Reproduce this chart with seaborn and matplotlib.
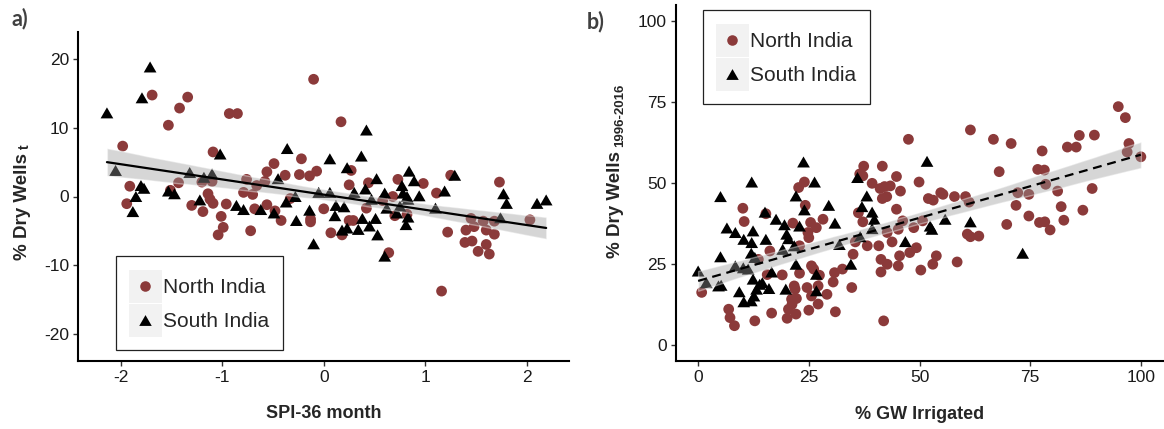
import matplotlib
matplotlib.use("Agg")
import matplotlib.pyplot as plt
import numpy as np
import pandas as pd
import seaborn as sns
from matplotlib.lines import Line2D
from matplotlib.patches import Rectangle
from matplotlib.legend_handler import HandlerBase
from matplotlib.path import Path
from matplotlib.collections import PolyCollection

sns.set_style("white")
plt.rcParams["font.family"] = ["Liberation Sans", "DejaVu Sans"]
plt.rcParams["axes.unicode_minus"] = False

regions = ["North India", "South India"]

# ---- panel a: 36-month SPI vs change in dry wells ----
spi_north = [-1.98, -1.91, -1.94, -1.69, -1.53, -1.51, -1.42, -1.34, -1.43, -1.30,
             -1.20, -1.19, -1.14, -1.10, -1.09, -1.12, -1.09, -1.01, -0.99, -1.04,
             -0.96, -0.93, -0.85, -0.79, -0.76, -0.70, -0.68, -0.72, -0.66, -0.58,
             -0.56, -0.56, -0.49, -0.48, -0.42, -0.38, -0.33, -0.22, -0.24, -0.14,
             -0.13, -0.13, -0.10, -0.07, 0.00, 0.07, 0.17, 0.18, 0.25, 0.27,
             0.25, 0.29, 0.42, 0.44, 0.58, 0.64, 0.68, 0.70, 0.73, 0.82,
             0.98, 1.11, 1.16, 1.22, 1.25, 1.39, 1.40, 1.45, 1.46, 1.48,
             1.52, 1.57, 1.60, 1.60, 1.63, 1.68, 1.68, 1.73, 2.03]
dry_north = [7.35, 1.5, -1.05, 14.8, 10.4, 0.9, 12.9, 14.5, 2.0, -1.3,
             2.1, -2.2, 0.4, 2.2, 6.5, -0.4, -1.0, -2.9, -4.5, -5.6,
             -1.1, 12.1, 12.1, 0.6, 2.5, 0.3, -1.8, -5.0, 1.6, 2.2,
             3.6, -1.2, 4.8, -2.1, -3.5, 3.1, -0.3, 5.5, 3.2, 3.0,
             -3.3, -3.7, 17.1, 3.7, -1.8, -5.3, 10.9, -5.6, 1.7, 3.8,
             -3.5, -3.5, -1.7, 2.0, -0.6, -8.2, 0.0, -2.8, 2.5, -2.6,
             1.9, 0.5, -13.8, -5.2, 3.1, -6.7, -4.9, -3.2, -6.5, -4.4,
             -8.0, -3.6, -4.9, -7.0, -8.4, -5.5, -3.6, 2.1, -3.4]
spi_south = [-2.135, -2.05, -1.71, -1.79, -1.80, -1.77, -1.85, -1.88, -1.53, -1.47,
             -1.32, -1.02, -1.10, -1.18, -1.22, -0.86, -0.79, -0.62, -0.49, -0.45,
             -0.36, -0.37, -0.28, -0.27, -0.14, -0.10, -0.05, 0.06, 0.06, 0.12,
             0.11, 0.20, 0.23, 0.30, 0.37, 0.42, 0.18, 0.23, 0.34, 0.38,
             0.41, 0.45, 0.47, 0.51, 0.52, 0.53, 0.60, 0.60, 0.62, 0.72,
             0.75, 0.77, 0.78, 0.82, 0.81, 0.83, 0.84, 0.89, 0.94, 0.83,
             1.10, 1.19, 1.29, 1.74, 1.77, 1.80, 2.10, 2.19]
dry_south = [12.2, 3.8, 18.9, 14.4, 1.6, 1.2, 0.0, -2.2, 0.8, 0.4,
             3.5, 6.2, 3.3, 2.8, -0.5, -1.3, -1.9, -1.9, -2.4, 2.6,
             7.0, -0.8, 0.0, -3.5, -2.0, -6.9, 0.6, 0.6, 5.5, -1.3,
             -2.8, -1.5, 4.2, 0.6, 5.9, 9.7, -4.9, -4.6, -4.8, -3.2,
             1.1, -4.3, -0.4, -3.2, 2.6, -5.6, -8.7, 0.5, -1.7, -2.4,
             -1.4, 1.6, 0.5, 0.0, -4.1, -3.0, 3.7, 2.3, 0.1, -0.4,
             -1.7, 0.8, 3.1, -3.1, 0.4, -1.0, -1.0, -0.5]

# ---- panel b: groundwater-irrigated share vs dry wells 1996-2016 ----
gw_north = [0.8, 6.9, 7.2, 8.2, 10.1, 10.4, 12.8, 13.6, 16.2, 15.6,
            16.6, 15.3, 19.0, 20.1, 20.4, 21.2, 21.7, 21.9, 22.1, 21.1,
            22.2, 21.4, 22.7, 22.9, 22.9, 24.0, 24.2, 24.8, 25.0, 25.0,
            24.6, 25.6, 25.6, 25.4, 26.1, 26.7, 27.1, 27.1, 27.4, 28.2,
            29.1, 30.5, 30.8, 31.0, 32.6, 34.7, 35.0, 35.5, 36.2, 37.2,
            37.4, 37.2, 36.5, 38.2, 39.3, 40.8, 41.3, 41.3, 41.6, 41.9,
            41.6, 41.1, 42.7, 42.7, 42.1, 43.4, 42.6, 43.8, 44.8, 44.8,
            45.2, 45.2, 45.5, 45.7, 46.2, 47.5, 47.8, 48.7, 49.3, 49.9,
            50.3, 50.7, 52.0, 53.1, 53.0, 53.8, 54.8, 55.3, 57.9, 58.5,
            60.4, 60.8, 61.2, 61.5, 61.5, 63.4, 66.7, 68.0, 69.7, 70.7,
            71.8, 72.2, 74.7, 74.7, 76.7, 77.1, 77.7, 78.2, 78.3, 78.5,
            79.5, 81.2, 82.0, 82.6, 83.4, 85.4, 86.1, 86.9, 89.0, 89.5,
            94.9, 96.5, 97.3, 96.9, 100.0]
wells_north = [16.2, 11.0, 8.4, 5.9, 42.2, 38.1, 7.4, 26.4, 29.0, 21.7,
               9.8, 40.5, 21.6, 8.2, 11.0, 12.5, 18.2, 17.2, 9.5, 14.1,
               14.3, 37.6, 48.6, 30.6, 22.1, 50.3, 43.1, 34.7, 33.1, 10.7,
               17.7, 24.4, 15.1, 37.8, 23.4, 36.2, 18.2, 12.6, 21.5, 38.8,
               15.6, 19.4, 22.3, 10.2, 23.4, 17.7, 28.0, 31.8, 40.8, 38.0,
               55.2, 52.2, 52.8, 30.6, 49.9, 30.6, 26.4, 22.5, 55.2, 7.4,
               45.2, 48.3, 24.9, 34.7, 48.9, 49.1, 45.8, 31.8, 52.0, 41.9,
               35.7, 24.4, 27.5, 47.5, 38.3, 63.5, 28.5, 36.2, 30.0, 50.3,
               23.1, 38.3, 45.2, 44.7, 24.9, 27.5, 47.0, 46.5, 45.8, 25.6,
               45.8, 34.2, 44.1, 66.4, 33.4, 33.6, 63.5, 53.5, 37.2, 62.2,
               43.1, 47.0, 46.5, 39.8, 54.2, 37.8, 59.9, 54.0, 38.0, 49.6,
               35.5, 47.5, 42.7, 38.5, 61.1, 61.1, 64.7, 41.6, 48.3, 64.8,
               73.6, 70.2, 62.2, 59.6, 58.1]
gw_south = [0.0, 1.85, 5.05, 5.05, 4.6, 5.2, 6.5, 8.4, 8.4, 9.3,
            10.3, 10.3, 12.1, 12.4, 12.1, 12.0, 11.3, 12.8, 12.4, 12.0,
            12.6, 13.2, 13.9, 15.1, 15.3, 14.5, 16.0, 16.6, 17.6, 19.5,
            20.0, 20.4, 19.1, 19.8, 22.1, 22.9, 21.7, 22.1, 23.8, 24.0,
            26.3, 26.7, 26.7, 29.5, 30.9, 31.9, 34.5, 36.0, 37.0, 38.1,
            39.3, 39.8, 36.6, 39.3, 46.8, 51.7, 52.4, 52.8, 55.8, 61.5,
            73.3, 10.2]
wells_south = [22.8, 19.2, 45.8, 27.2, 18.2, 18.4, 36.1, 34.7, 24.4, 16.4,
               32.6, 13.3, 50.3, 35.2, 31.6, 28.3, 23.4, 27.0, 20.3, 13.6,
               15.1, 17.2, 18.7, 41.0, 32.6, 19.2, 17.4, 22.5, 38.8, 37.1,
               34.2, 32.8, 29.5, 17.2, 46.0, 36.7, 30.6, 24.9, 56.5, 41.7,
               50.3, 21.8, 16.7, 43.1, 37.6, 31.0, 24.9, 51.7, 42.7, 46.0,
               41.0, 38.8, 33.4, 35.9, 31.9, 56.7, 36.7, 35.7, 38.8, 38.0,
               28.3, 23.8]

spi_ticks = [-2, -1, 0, 1, 2]
spi_tick_labels = ["-2", "-1", "0", "1", "2"]
dry_ticks = [-20, -10, 0, 10, 20]
dry_tick_labels = ["-20", "-10", "0", "10", "20"]
pct_ticks = [0, 25, 50, 75, 100]
pct_tick_labels = ["0", "25", "50", "75", "100"]

NORTH_COLOR = "#8B3A3A"
SOUTH_COLOR = "#000000"
BAND_COLOR = "#999999"
KEY_BG = "#F2F2F2"
# equilateral triangle marker
TRIANGLE = Path([(-1, -0.866), (1, -0.866), (0, 0.866), (-1, -0.866)],
                [Path.MOVETO, Path.LINETO, Path.LINETO, Path.CLOSEPOLY])

df_a = pd.concat([
    pd.DataFrame({"spi": spi_north, "dry": dry_north, "region": regions[0]}),
    pd.DataFrame({"spi": spi_south, "dry": dry_south, "region": regions[1]}),
], ignore_index=True)
df_b = pd.concat([
    pd.DataFrame({"gw": gw_north, "wells": wells_north, "region": regions[0]}),
    pd.DataFrame({"gw": gw_south, "wells": wells_south, "region": regions[1]}),
], ignore_index=True)


class KeyHandler(HandlerBase):
    """Legend key: grey square background with a centred marker."""
    def create_artists(self, legend, orig_handle, xdescent, ydescent,
                       width, height, fontsize, trans):
        bg = Rectangle((-xdescent, -ydescent), width, height,
                       facecolor=KEY_BG, edgecolor="none", transform=trans)
        mark = Line2D([-xdescent + width / 2], [-ydescent + height / 2],
                      marker=orig_handle.get_marker(),
                      markersize=orig_handle.get_markersize(),
                      color=orig_handle.get_color(),
                      markeredgewidth=0, linestyle="none", transform=trans)
        return [bg, mark]


def draw_points(ax, df, x, y):
    north = df[df["region"] == regions[0]]
    south = df[df["region"] == regions[1]]
    sns.scatterplot(data=north, x=x, y=y, ax=ax, color=NORTH_COLOR, marker="o",
                    s=60, edgecolor="none", linewidth=0, legend=False)
    sns.scatterplot(data=south, x=x, y=y, ax=ax, color=SOUTH_COLOR, marker=TRIANGLE,
                    s=84, edgecolor="none", linewidth=0, legend=False)


def draw_fit(ax, df, x, y, **line_kws):
    n_before = len(ax.collections)
    sns.regplot(data=df, x=x, y=y, ax=ax, scatter=False, ci=95, seed=3,
                color="black", line_kws=dict(lw=1.6, **line_kws))
    for coll in ax.collections[n_before:]:
        if isinstance(coll, PolyCollection):
            coll.set_facecolor(BAND_COLOR)
            coll.set_alpha(0.4)


def style_axes(ax):
    sns.despine(ax=ax)
    for side in ("left", "bottom"):
        ax.spines[side].set_linewidth(1.5)
        ax.spines[side].set_color("black")
    ax.tick_params(axis="both", which="major", direction="out", length=3.5,
                   width=1.0, color="#333333", labelsize=12.5,
                   labelcolor="#1a1a1a", pad=3, left=True, bottom=True)
    ax.grid(False)


def add_legend(ax, loc, anchor):
    handles = [
        Line2D([], [], marker="o", markersize=7.6, color=NORTH_COLOR, linestyle="none"),
        Line2D([], [], marker=TRIANGLE, markersize=9.0, color=SOUTH_COLOR, linestyle="none"),
    ]
    leg = ax.legend(handles, regions, loc=loc, bbox_to_anchor=anchor,
                    handler_map={Line2D: KeyHandler()},
                    fontsize=15, frameon=True, fancybox=False, shadow=False,
                    framealpha=1, edgecolor="#222222", borderpad=0.65,
                    handlelength=1.55, handleheight=2.05, labelspacing=0.05,
                    handletextpad=0.08, borderaxespad=0)
    leg.get_frame().set_linewidth(0.9)
    return leg


fig = plt.figure(figsize=(11.64, 4.29), dpi=100)
ax_a = fig.add_axes([78 / 1164, 68 / 429, 490.5 / 1164, 329 / 429])
ax_b = fig.add_axes([676 / 1164, 68 / 429, 487 / 1164, 356 / 429])

# panel a
draw_points(ax_a, df_a, "spi", "dry")
draw_fit(ax_a, df_a, "spi", "dry")
ax_a.set_xlim(-2.42, 2.41)
ax_a.set_ylim(-24, 24)
ax_a.set_xticks(spi_ticks, spi_tick_labels)
ax_a.set_yticks(dry_ticks, dry_tick_labels)
style_axes(ax_a)
ax_a.set_xlabel("SPI-36 month", fontsize=13, fontweight="bold")
ax_a.set_ylabel("% Dry Wells", fontsize=13.5, fontweight="bold")
ax_a.xaxis.set_label_coords(0.5, -0.134)
ax_a.yaxis.set_label_coords(-0.096, 0.47)
ax_a.annotate("t", xy=(1.0, 1.0), xycoords=ax_a.yaxis.label,
              xytext=(1, 3), textcoords="offset points", rotation=90,
              ha="right", va="bottom", fontsize=10, fontweight="bold")
add_legend(ax_a, "lower left", (0.077, 0.033))

# panel b
draw_points(ax_b, df_b, "gw", "wells")
draw_fit(ax_b, df_b, "gw", "wells", linestyle=(0, (4, 2.6)))
ax_b.set_xlim(-5, 105)
ax_b.set_ylim(-5, 105)
ax_b.set_xticks(pct_ticks, pct_tick_labels)
ax_b.set_yticks(pct_ticks, pct_tick_labels)
style_axes(ax_b)
ax_b.set_xlabel("% GW Irrigated", fontsize=13, fontweight="bold")
ax_b.set_ylabel("% Dry Wells", fontsize=13.5, fontweight="bold")
ax_b.xaxis.set_label_coords(0.5, -0.127)
ax_b.yaxis.set_label_coords(-0.106, 0.44)
ax_b.annotate("1996-2016", xy=(1.0, 1.0), xycoords=ax_b.yaxis.label,
              xytext=(1, 3), textcoords="offset points", rotation=90,
              ha="right", va="bottom", fontsize=9.5, fontweight="bold")
add_legend(ax_b, "upper left", (0.055, 0.985))

# panel tags
fig.text(11 / 1164, 1 - 19 / 429, "a)", fontsize=15.5, fontweight="bold",
         color="#404040", family=["Lato", "DejaVu Sans"], va="center", ha="left")
fig.text(587 / 1164, 1 - 22 / 429, "b)", fontsize=15.5, fontweight="bold",
         color="#404040", family=["Lato", "DejaVu Sans"], va="center", ha="left")

fig.savefig("out.png", dpi=100, facecolor="white")
